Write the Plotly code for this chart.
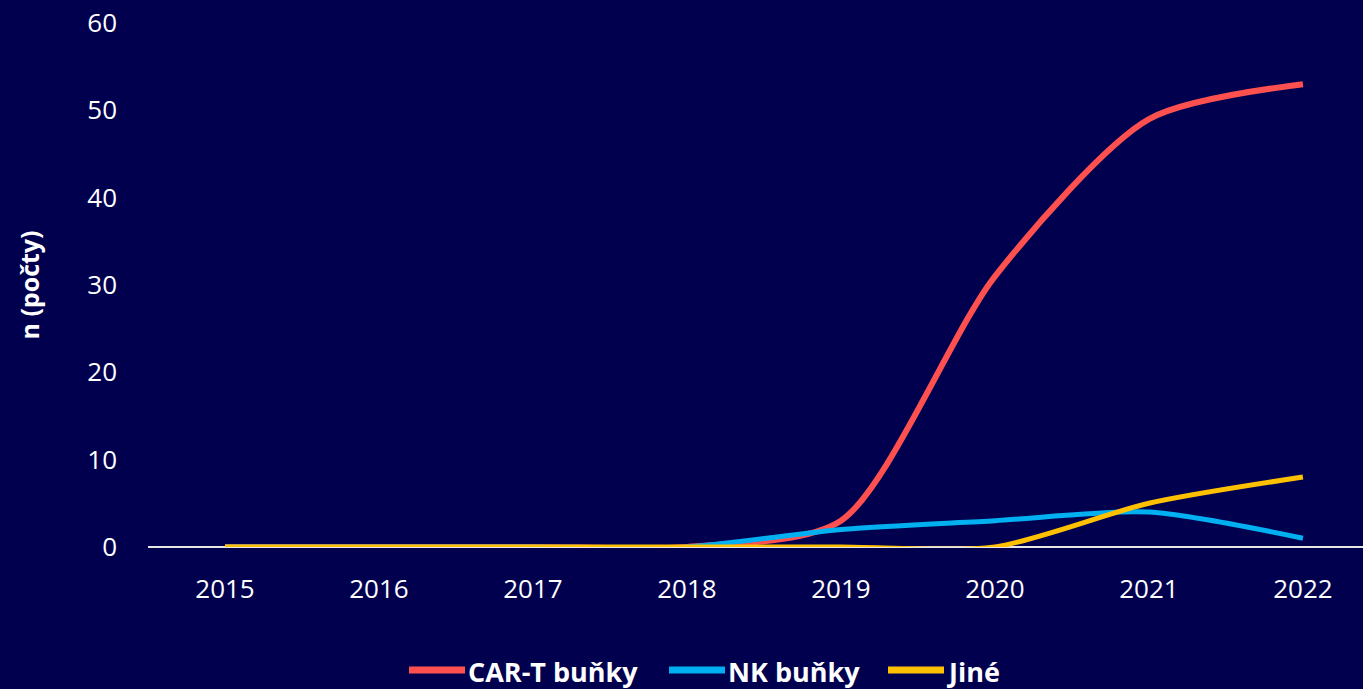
import plotly.graph_objects as go

years = ["2015", "2016", "2017", "2018", "2019", "2020", "2021", "2022"]
car_t = [0, 0, 0, 0, 3, 31, 49, 53]
nk = [0, 0, 0, 0, 2, 3, 4, 1]
jine = [0, 0, 0, 0, 0, 0, 5, 8]

names = ["CAR-T buňky", "NK buňky", "Jiné"]
colors = ["#FF5050", "#00B0F0", "#FFC000"]
values = [car_t, nk, jine]
widths = [6, 5, 5]

fig = go.Figure()
for name, vals, color, w in zip(names, values, colors, widths):
    fig.add_trace(go.Scatter(
        x=years, y=vals, name=name, mode="lines", showlegend=False,
        line=dict(color=color, width=w, shape="spline", smoothing=0.75),
    ))

# manual legend (long line keys like the original)
L, R, T, B = 148, 0, 23, 142
W, H = 1363, 689
pw, ph = W - L - R, H - T - B
def px(x):
    return (x - L) / pw
def py(y):
    return (H - B - y) / ph

legend_y = 670
key_starts = [409, 669, 888]
key_len = 56
for name, color, x0 in zip(names, colors, key_starts):
    fig.add_shape(type="line", xref="paper", yref="paper",
                  x0=px(x0), x1=px(x0 + key_len), y0=py(legend_y), y1=py(legend_y),
                  line=dict(color=color, width=7))
    fig.add_annotation(xref="paper", yref="paper", x=px(x0 + key_len + 1), y=py(legend_y + 1),
                       xanchor="left", yanchor="middle", showarrow=False, text=name,
                       font=dict(size=27, family="Open Sans", weight="bold", color="white"))

bg = "#00004F"
fig.update_layout(
    width=W, height=H,
    paper_bgcolor=bg, plot_bgcolor=bg,
    margin=dict(l=L, r=R, t=T, b=B, pad=0),
    font=dict(family="Open Sans", color="white", size=26),
    xaxis=dict(
        type="category", range=[-0.5, 7.39], showgrid=False, zeroline=False,
        showline=False, ticks="", tickfont=dict(size=26), ticklabelstandoff=24,
    ),
    yaxis=dict(
        range=[-0.01, 60.01], tickvals=[0, 10, 20, 30, 40, 50, 60], showgrid=False,
        zeroline=True, zerolinecolor="#E6E6E6", zerolinewidth=2,
        showline=False, ticks="", tickfont=dict(size=26), ticklabelstandoff=30,
        title=dict(text="n (počty)", font=dict(size=25, weight="bold"), standoff=40),
    ),
)

fig.write_html("out.html", config={"displayModeBar": False},
               post_script="document.body.style.margin='0';document.body.style.overflow='hidden';")
